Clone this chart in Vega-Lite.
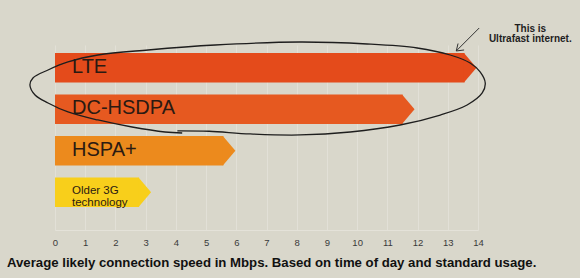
{
  "$schema": "https://vega.github.io/schema/vega-lite/v6.json",
  "width": 423,
  "height": 185,
  "autosize": {"type": "none"},
  "padding": {"left": 55, "top": 45, "right": 102, "bottom": 48},
  "background": "#D9D7CB",
  "config": {
    "view": {"stroke": null},
    "font": "Liberation Sans",
    "axisX": {
      "values": [0, 1, 2, 3, 4, 5, 6, 7, 8, 9, 10, 11, 12, 13, 14],
      "title": null,
      "ticks": false,
      "labelPadding": 7,
      "labelFontSize": 9.5,
      "labelColor": "#3a3a3a",
      "labelFont": "Liberation Sans",
      "labelOverlap": false,
      "labelFlush": false,
      "domainColor": "#E4E2D9",
      "gridColor": "#E2E0D7",
      "grid": true
    }
  },
  "title": {
    "text": "Average likely connection speed in Mbps. Based on time of day and standard usage.",
    "orient": "bottom",
    "anchor": "start",
    "frame": "group",
    "dx": -48,
    "offset": 10,
    "font": "Liberation Sans",
    "fontSize": 13.2,
    "fontWeight": "bold",
    "color": "#111111",
    "letterSpacing": 0.34
  },
  "datasets": {
    "bars": [
      {"tech": "LTE", "label": "LTE", "speed": 13.95},
      {"tech": "DC-HSDPA", "label": "DC-HSDPA", "speed": 11.9},
      {"tech": "HSPA+", "label": "HSPA+", "speed": 5.97},
      {"tech": "Older 3G", "label": "Older 3G\ntechnology", "speed": 3.18}
    ],
    "ellipse": [
      {"i": 0, "x": 4.21, "r": 1.572},
      {"i": 1, "x": 3.64, "r": 1.548},
      {"i": 2, "x": 2.55, "r": 1.428},
      {"i": 3, "x": 1.42, "r": 1.259},
      {"i": 4, "x": 0.43, "r": 1.066},
      {"i": 5, "x": -0.23, "r": 0.849},
      {"i": 6, "x": -0.66, "r": 0.657},
      {"i": 7, "x": -0.83, "r": 0.416},
      {"i": 8, "x": -0.73, "r": 0.247},
      {"i": 9, "x": -0.23, "r": 0.054},
      {"i": 10, "x": 0.43, "r": -0.139},
      {"i": 11, "x": 1.42, "r": -0.307},
      {"i": 12, "x": 3.08, "r": -0.428},
      {"i": 13, "x": 5.3, "r": -0.548},
      {"i": 14, "x": 8.11, "r": -0.62},
      {"i": 15, "x": 10.33, "r": -0.572},
      {"i": 16, "x": 11.99, "r": -0.476},
      {"i": 17, "x": 13.08, "r": -0.307},
      {"i": 18, "x": 13.74, "r": -0.114},
      {"i": 19, "x": 14.07, "r": 0.102},
      {"i": 20, "x": 14.24, "r": 0.367},
      {"i": 21, "x": 14.14, "r": 0.608},
      {"i": 22, "x": 13.64, "r": 0.898},
      {"i": 23, "x": 12.75, "r": 1.139},
      {"i": 24, "x": 11.42, "r": 1.38},
      {"i": 25, "x": 9.77, "r": 1.548},
      {"i": 26, "x": 8.11, "r": 1.62},
      {"i": 27, "x": 6.46, "r": 1.596},
      {"i": 28, "x": 5.1, "r": 1.53},
      {"i": 29, "x": 4.05, "r": 1.52}
    ],
    "arrow": [
      {"seg": "shaft", "i": 0, "x": 14.04, "r": -0.958},
      {"seg": "shaft", "i": 1, "x": 13.28, "r": -0.404},
      {"seg": "head", "i": 0, "x": 13.34, "r": -0.584},
      {"seg": "head", "i": 1, "x": 13.28, "r": -0.404},
      {"seg": "head", "i": 2, "x": 13.54, "r": -0.428}
    ],
    "note": [
      {"text": "This is\nUltrafast internet.", "x": 15.73, "r": -0.934}
    ]
  },
  "layer": [
    {
      "data": {"name": "bars"},
      "encoding": {
        "y": {
          "field": "tech",
          "type": "nominal",
          "sort": null,
          "scale": {"paddingInner": 0.289, "paddingOuter": 0.3735, "align": 0.26},
          "axis": null
        }
      },
      "layer": [
        {
          "mark": {"type": "bar", "xOffset": -12},
          "encoding": {
            "x": {
              "field": "speed",
              "type": "quantitative",
              "scale": {"domain": [0, 14], "nice": false}
            },
            "x2": {"datum": 0},
            "color": {
              "field": "tech",
              "type": "nominal",
              "scale": {
                "domain": ["LTE", "DC-HSDPA", "HSPA+", "Older 3G"],
                "range": ["#E44B1B", "#E65920", "#EC8A1D", "#F8CF1B"]
              },
              "legend": null
            }
          }
        },
        {
          "mark": {"type": "point", "shape": "M-0.85,-1L0,0L-0.85,1Z", "filled": true, "opacity": 1, "size": 870, "strokeWidth": 0},
          "encoding": {
            "x": {"field": "speed", "type": "quantitative", "scale": {"domain": [0, 14], "nice": false}},
            "color": {"field": "tech", "type": "nominal", "legend": null}
          }
        },
        {
          "mark": {"type": "text", "align": "left", "baseline": "middle", "dx": 17, "dy": -1, "lineBreak": "\n", "lineHeight": 11.5, "color": "#2B1A12", "font": "Liberation Sans", "letterSpacing": -0.3},
          "encoding": {
            "x": {"datum": 0, "type": "quantitative", "scale": {"domain": [0, 14], "nice": false}},
            "text": {"field": "label"},
            "size": {
              "condition": {"test": "datum.tech === 'Older 3G'", "value": 11.5},
              "value": 20
            }
          }
        }
      ]
    },
    {
      "encoding": {
        "y": {
          "field": "r",
          "type": "quantitative",
          "scale": {"domain": [-0.548, 3.91], "reverse": true, "nice": false, "zero": false},
          "axis": null
        },
        "x": {"field": "x", "type": "quantitative", "scale": {"domain": [0, 14], "nice": false}}
      },
      "layer": [
        {
          "data": {"name": "ellipse"},
          "mark": {"type": "line", "interpolate": "catmull-rom", "color": "#1E1E1E", "strokeWidth": 1.3, "clip": false},
          "encoding": {"order": {"field": "i", "type": "quantitative"}}
        },
        {
          "data": {"name": "arrow"},
          "mark": {"type": "line", "color": "#333333", "strokeWidth": 1, "clip": false},
          "encoding": {
            "detail": {"field": "seg"},
            "order": {"field": "i", "type": "quantitative"}
          }
        },
        {
          "data": {"name": "note"},
          "mark": {"type": "text", "align": "center", "baseline": "middle", "lineBreak": "\n", "lineHeight": 10.5, "fontSize": 10, "fontWeight": "bold", "color": "#1E1E1E", "font": "Liberation Sans", "letterSpacing": -0.1, "clip": false},
          "encoding": {"text": {"field": "text"}}
        }
      ]
    }
  ],
  "resolve": {"scale": {"y": "independent"}}
}
